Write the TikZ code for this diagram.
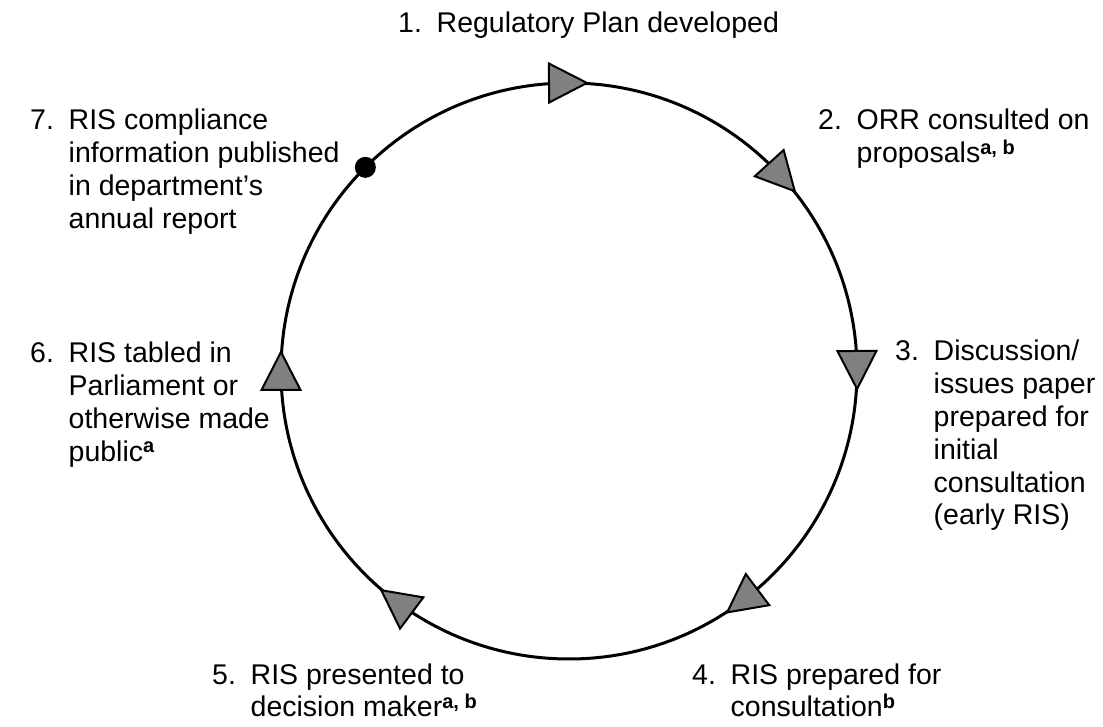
\documentclass[tikz,border=0pt]{standalone}
\usepackage{fontspec}
\setmainfont{Liberation Sans}
\definecolor{markgray}{RGB}{128,128,128}
\newcommand{\supx}[1]{\raisebox{8.5pt}{\fontsize{20}{20}\selectfont\bfseries #1}}
\newcommand{\numlbl}[1]{\begin{tabular}[t]{@{}p{38.5pt}@{}l@{}}#1\end{tabular}}
\begin{document}
\begin{tikzpicture}[x=1pt,y=1pt,
  ring/.style={circle, draw=black, line width=3pt, minimum size=576pt, inner sep=0pt},
  flowmark/.style={draw=black, fill=markgray, line width=2pt, line join=miter},
  stepdot/.style={circle, fill=black, minimum size=21pt, inner sep=0pt},
  lbl/.style={anchor=base west, inner sep=0pt, font=\fontsize{28.5}{32.8}\selectfont},
  lblb/.style={anchor=base west, inner sep=0pt, font=\fontsize{28.5}{30}\selectfont}]
\useasboundingbox (0,0) rectangle (1103,727);
\coordinate (c) at (569,356);
\node[ring] (circ) at (c) {};
\foreach \a/\n in {90.2/m1, 42.3/m2, 0.2/m3, -53/m4, -126.8/m5, 180/m6} {
  \path (c) ++(\a:288) coordinate (\n);
  \draw[flowmark, shift={(\n)}, rotate=\a-90] (19,0) -- (-19,19.5) -- (-19,-19.5) -- cycle;
}
\path (c) ++(135:288) coordinate (m7);
\node[stepdot] (dot7) at (m7) {};

\node[lbl] (t1) at (398,694) {\numlbl{1.&Regulatory Plan developed}};
\node[lbl] (t2) at (818,597) {\numlbl{2.&ORR consulted on\\&proposals\supx{a, b}}};
\node[lbl] (t3) at (895,366) {\numlbl{3.&Discussion/\\&issues paper\\&prepared for\\&initial\\&consultation\\&(early RIS)}};
\node[lblb] (t4) at (692,42) {\numlbl{4.&RIS prepared for\\&consultation\supx{b}}};
\node[lblb] (t5) at (212,42) {\numlbl{5.&RIS presented to\\&decision maker\supx{a, b}}};
\node[lbl] (t6) at (30,364) {\numlbl{6.&RIS tabled in\\&Parliament or\\&otherwise made\\&public\supx{a}}};
\node[lbl] (t7) at (30,597) {\numlbl{7.&RIS compliance\\&information published\\&in department’s\\&annual report}};
\end{tikzpicture}
\end{document}
